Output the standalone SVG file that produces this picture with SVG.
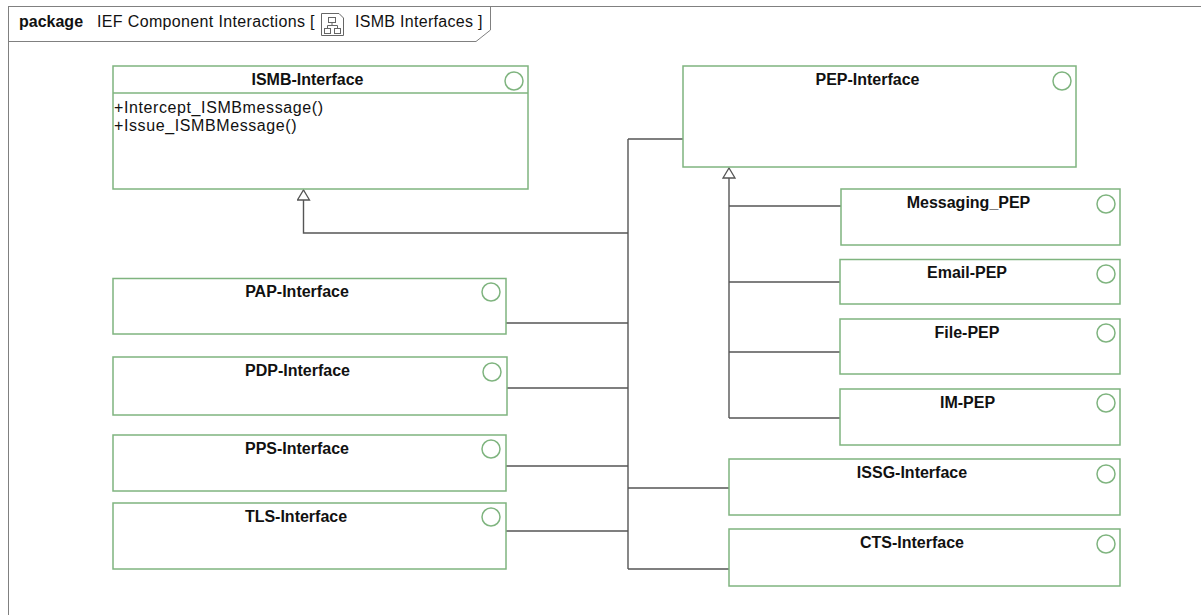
<svg xmlns="http://www.w3.org/2000/svg" width="1201" height="615" viewBox="0 0 1201 615">
<style>
.box{fill:#fff;stroke:#7fb47f;stroke-width:1.5}
.ic{fill:none;stroke:#7fb47f;stroke-width:1.5}
.t{font-family:"Liberation Sans",Arial,sans-serif;font-size:16px;font-weight:bold;fill:#111;text-anchor:middle}
.op{font-family:"Liberation Sans",Arial,sans-serif;font-size:16px;fill:#111;letter-spacing:0.6px}
.hd{font-family:"Liberation Sans",Arial,sans-serif;font-size:16px;fill:#111}
.c{fill:none;stroke:#555;stroke-width:1.4}
.fr{fill:none;stroke:#808080;stroke-width:1}
</style>
<defs>
<marker id="gen" viewBox="-1 -1 12 14" refX="10" refY="6" markerWidth="12" markerHeight="14" markerUnits="userSpaceOnUse" orient="auto">
<path d="M0,0 L10,6 L0,12 Z" fill="#fff" stroke="#555" stroke-width="1.3"/>
</marker>
</defs>
<rect x="0" y="0" width="1201" height="615" fill="#fff"/>
<g id="frame">
<rect class="fr" x="8.5" y="6.5" width="1300" height="700"/>
<path class="fr" d="M8.5,41.5 H476 L490.5,30 V6.5"/>
<text class="hd" x="19" y="26.5" font-weight="bold">package</text>
<text class="hd" x="97" y="26.5" style="letter-spacing:0.35px">IEF Component Interactions [</text>
<g id="icon" fill="none" stroke="#666" stroke-width="1">
<path d="M321.5,13.5 H339 L343.5,18 V35.5 H321.5 Z"/>
<rect x="328.5" y="17.5" width="7" height="5"/>
<rect x="324.5" y="28.5" width="6" height="5"/>
<rect x="334.5" y="28.5" width="6" height="5"/>
<path d="M332,22.5 V25.5 M327.5,28.5 V25.5 H337.5 V28.5"/>
</g>
<text class="hd" x="355" y="26.5" style="letter-spacing:0.3px">ISMB Interfaces ]</text>
</g>
<g id="connectors">
<path class="c" d="M628,233 H303.5 V190" marker-end="url(#gen)"/>
<path class="c" d="M729,418 V168" marker-end="url(#gen)"/>
<path class="c" d="M628,139 V569"/>
<path class="c" d="M628,139 H683"/>
<path class="c" d="M506,323 H628"/>
<path class="c" d="M507,388 H628"/>
<path class="c" d="M506,466 H628"/>
<path class="c" d="M506,531 H628"/>
<path class="c" d="M628,488 H729"/>
<path class="c" d="M628,569 H729"/>
<path class="c" d="M729,206 H841"/>
<path class="c" d="M729,282 H840"/>
<path class="c" d="M729,352 H840"/>
<path class="c" d="M729,418 H840"/>
</g>
<g id="ISMB-Interface">
<rect class="box" x="113" y="66" width="415" height="123"/>
<line class="ic" x1="113" y1="93" x2="528" y2="93"/>
<circle class="ic" cx="514" cy="81" r="9"/>
<text class="t" x="307.5" y="85">ISMB-Interface</text>
<text class="op" x="114" y="113">+Intercept_ISMBmessage()</text>
<text class="op" x="114" y="131">+Issue_ISMBMessage()</text>
</g>
<g id="PEP-Interface">
<rect class="box" x="683" y="66" width="393" height="101"/>
<circle class="ic" cx="1062" cy="81" r="9"/>
<text class="t" x="867.5" y="85">PEP-Interface</text>
</g>
<g id="Messaging_PEP">
<rect class="box" x="841" y="189" width="279" height="56"/>
<circle class="ic" cx="1106" cy="204" r="9"/>
<text class="t" x="968.5" y="208">Messaging_PEP</text>
</g>
<g id="Email-PEP">
<rect class="box" x="840" y="259.5" width="280" height="44.5"/>
<circle class="ic" cx="1106" cy="274" r="9"/>
<text class="t" x="967" y="278">Email-PEP</text>
</g>
<g id="File-PEP">
<rect class="box" x="840" y="319" width="280" height="55"/>
<circle class="ic" cx="1106" cy="333" r="9"/>
<text class="t" x="967" y="338">File-PEP</text>
</g>
<g id="IM-PEP">
<rect class="box" x="840" y="389" width="280" height="56"/>
<circle class="ic" cx="1106" cy="403" r="9"/>
<text class="t" x="967.5" y="408">IM-PEP</text>
</g>
<g id="PAP-Interface">
<rect class="box" x="113" y="278.5" width="393" height="55.5"/>
<circle class="ic" cx="491" cy="292" r="9"/>
<text class="t" x="297" y="297">PAP-Interface</text>
</g>
<g id="PDP-Interface">
<rect class="box" x="113" y="357" width="394" height="58"/>
<circle class="ic" cx="492" cy="372" r="9"/>
<text class="t" x="297.5" y="376">PDP-Interface</text>
</g>
<g id="PPS-Interface">
<rect class="box" x="113" y="435" width="393" height="56"/>
<circle class="ic" cx="491" cy="449" r="9"/>
<text class="t" x="297" y="454">PPS-Interface</text>
</g>
<g id="TLS-Interface">
<rect class="box" x="113" y="503" width="393" height="66"/>
<circle class="ic" cx="491" cy="517" r="9"/>
<text class="t" x="296" y="522">TLS-Interface</text>
</g>
<g id="ISSG-Interface">
<rect class="box" x="729" y="459" width="391" height="56"/>
<circle class="ic" cx="1106" cy="474" r="9"/>
<text class="t" x="912" y="478">ISSG-Interface</text>
</g>
<g id="CTS-Interface">
<rect class="box" x="729" y="529" width="391" height="57"/>
<circle class="ic" cx="1106" cy="544" r="9"/>
<text class="t" x="912" y="548">CTS-Interface</text>
</g>
</svg>
